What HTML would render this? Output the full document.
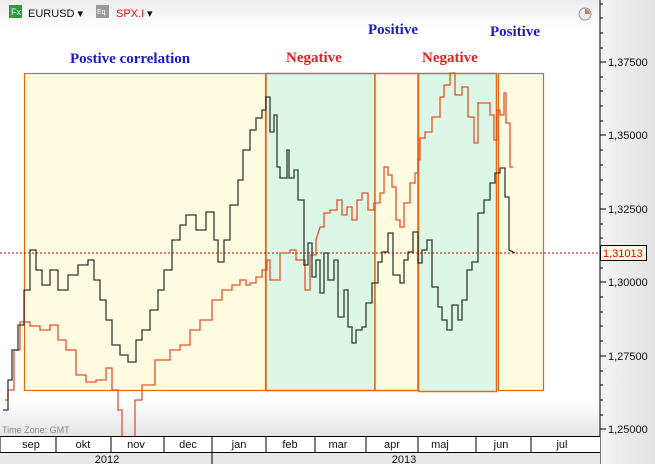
<!DOCTYPE html>
<html><head><meta charset="utf-8"><style>
body{margin:0;width:655px;height:464px;overflow:hidden;background:#fff;font-family:"Liberation Sans",sans-serif}
</style></head><body>
<svg width="655" height="464" xmlns="http://www.w3.org/2000/svg" style="position:absolute;left:0;top:0">
<defs>
<linearGradient id="tg" x1="0" y1="0" x2="0" y2="1"><stop offset="0" stop-color="#ececec"/><stop offset="1" stop-color="#fff"/></linearGradient>
<linearGradient id="rg" x1="0" y1="0" x2="1" y2="0"><stop offset="0" stop-color="#f4f4f4"/><stop offset="1" stop-color="#e2e2e2"/></linearGradient>
<linearGradient id="bg" x1="0" y1="0" x2="0" y2="1"><stop offset="0" stop-color="#fff"/><stop offset="1" stop-color="#e4e4e4"/></linearGradient>
</defs>
<rect x="0" y="0" width="600" height="28" fill="url(#tg)"/>
<rect x="0" y="400" width="600" height="36" fill="url(#bg)"/>
<rect x="600" y="0" width="55" height="464" fill="url(#rg)"/>
<rect x="24.5" y="73.5" width="241" height="317" fill="#fffbe0" stroke="#e8660e" stroke-width="1.2"/>
<rect x="266" y="73.5" width="109" height="317" fill="#dcf7e6" stroke="#e8660e" stroke-width="1.5"/>
<rect x="375" y="73.5" width="43" height="317" fill="#fffbe0" stroke="#e8660e" stroke-width="1.5"/>
<rect x="418.5" y="73.5" width="78" height="318" fill="#dcf7e6" stroke="#e8660e" stroke-width="1.5"/>
<rect x="498.5" y="73.5" width="45" height="317" fill="#fffbe0" stroke="#e8660e" stroke-width="1.2"/>
<g font-family="Liberation Serif,serif" font-weight="bold" font-size="15">
<text x="70" y="63" fill="#1a1ac8">Postive correlation</text>
<text x="286" y="62" fill="#e02020">Negative</text>
<text x="368" y="34" fill="#1a1ac8">Positive</text>
<text x="422" y="62" fill="#e02020">Negative</text>
<text x="490" y="36" fill="#1a1ac8">Positive</text>
</g>
<line x1="0" y1="253" x2="600" y2="253" stroke="#c00" stroke-dasharray="2,2" stroke-width="1"/>
<polyline fill="none" stroke="#e8502a" stroke-width="1.3" points="5,400 8,400 8,390 14,390 14,350 20,350 20,322 30,322 30,326 40,326 40,330 50,330 50,325 58,325 58,340 66,340 66,350 76,350 76,375 86,375 86,382 96,382 96,380 106,380 106,368 112,368 112,390 118,390 118,410 122,410 122,440 128,440 128,470 135,470 135,400 142,400 142,385 155,385 155,360 170,360 170,350 180,350 180,345 190,345 190,330 200,330 200,320 212,320 212,300 222,300 222,290 232,290 232,285 240,285 240,280 246,280 246,285 250,285 250,283 256,283 256,277 262,277 262,270 267,270 267,260 270,260 270,280 280,280 280,253 290,253 290,250 296,250 296,260 305,260 305,290 310,290 310,255 316,255 316,240 320,227 324,227 324,213 330,213 330,210 337,210 337,200 342,200 342,215 347,215 347,207 352,207 352,220 357,220 357,200 362,200 362,193 368,193 368,210 374,210 374,203 380,203 380,193 384,193 384,167 388,167 388,175 392,175 392,187 396,187 396,220 400,220 400,227 404,227 404,203 410,203 410,183 415,183 415,173 418,173 418,160 420,160 420,138 425,138 425,132 432,132 432,117 440,117 440,97 444,97 444,85 450,85 450,73 455,73 455,95 462,95 462,87 468,87 468,117 474,117 474,143 478,143 478,103 490,103 490,115 494,115 494,140 497,140 497,110 500,110 500,115 504,115 504,93 506,93 506,123 510,123 510,167 513,167"/>
<polyline fill="none" stroke="#2f3a30" stroke-width="1.3" points="3,410 8,410 8,380 12,380 12,350 18,350 18,325 24,325 24,290 30,290 30,250 36,250 36,270 42,270 42,285 50,285 50,270 58,270 58,290 68,290 68,275 78,275 78,265 88,265 88,260 94,260 94,280 100,280 100,300 106,300 106,320 112,320 112,345 120,345 120,355 128,355 128,362 136,362 136,340 142,340 142,330 150,330 150,310 158,310 158,290 164,290 164,270 172,270 172,240 180,240 180,225 186,225 186,215 196,215 196,230 206,230 206,212 214,212 214,240 218,240 218,262 224,262 224,240 230,240 230,205 238,205 238,180 243,180 243,150 250,150 250,130 256,130 256,118 262,118 262,110 266,110 266,97 270,97 270,132 274,132 274,115 277,115 277,167 280,167 280,178 287,178 287,150 289,150 289,178 294,178 294,170 298,170 298,200 304,200 304,265 308,265 308,243 312,243 312,277 316,277 316,260 320,260 320,293 324,293 324,253 328,253 328,280 334,280 334,260 338,260 338,317 344,317 344,290 348,290 348,327 352,327 352,343 356,343 356,330 362,330 362,327 366,327 366,303 372,303 372,283 378,283 378,262 382,262 382,252 388,252 388,233 393,233 393,275 400,275 400,283 404,283 404,260 408,260 408,252 413,252 413,232 418,232 418,263 422,263 422,250 427,250 427,240 432,240 432,287 438,287 438,307 442,307 442,320 447,320 447,330 452,330 452,305 458,305 458,320 462,320 462,300 467,300 467,270 472,270 472,262 478,262 478,213 484,213 484,200 490,200 490,183 495,183 495,173 500,173 500,168 505,168 505,197 509,197 509,250 515,253"/>
<line x1="600" y1="0" x2="600" y2="464" stroke="#000" stroke-width="1"/>
<g stroke="#000" stroke-width="1">
<line x1="600" y1="62" x2="606" y2="62"/><line x1="600" y1="135" x2="606" y2="135"/><line x1="600" y1="209" x2="606" y2="209"/><line x1="600" y1="282" x2="606" y2="282"/><line x1="600" y1="356" x2="606" y2="356"/><line x1="600" y1="429" x2="606" y2="429"/>
</g>
<g stroke="#000" stroke-width="1">
<line x1="600" y1="4" x2="603" y2="4"/><line x1="600" y1="18" x2="603" y2="18"/><line x1="600" y1="33" x2="603" y2="33"/><line x1="600" y1="48" x2="603" y2="48"/>
<line x1="600" y1="77" x2="603" y2="77"/><line x1="600" y1="91" x2="603" y2="91"/><line x1="600" y1="106" x2="603" y2="106"/><line x1="600" y1="121" x2="603" y2="121"/>
<line x1="600" y1="150" x2="603" y2="150"/><line x1="600" y1="165" x2="603" y2="165"/><line x1="600" y1="180" x2="603" y2="180"/><line x1="600" y1="194" x2="603" y2="194"/>
<line x1="600" y1="224" x2="603" y2="224"/><line x1="600" y1="238" x2="603" y2="238"/><line x1="600" y1="253" x2="603" y2="253"/><line x1="600" y1="268" x2="603" y2="268"/>
<line x1="600" y1="297" x2="603" y2="297"/><line x1="600" y1="312" x2="603" y2="312"/><line x1="600" y1="326" x2="603" y2="326"/><line x1="600" y1="341" x2="603" y2="341"/>
<line x1="600" y1="371" x2="603" y2="371"/><line x1="600" y1="385" x2="603" y2="385"/><line x1="600" y1="400" x2="603" y2="400"/><line x1="600" y1="415" x2="603" y2="415"/>
</g>
<g font-size="11" fill="#111">
<text x="608" y="66">1,37500</text><text x="608" y="139">1,35000</text><text x="608" y="213">1,32500</text><text x="608" y="286">1,30000</text><text x="608" y="360">1,27500</text><text x="608" y="433">1,25000</text>
</g>
<rect x="600.5" y="245.5" width="46" height="15" fill="#fffbe0" stroke="#000"/>
<text x="603" y="257" font-size="11" fill="#e00">1,31013</text>
<rect x="0" y="436" width="600" height="28" fill="#fff"/>
<rect x="0" y="452" width="600" height="12" fill="#e8e8e8"/>
<line x1="0" y1="436.5" x2="600" y2="436.5" stroke="#000"/>
<line x1="0" y1="452.5" x2="600" y2="452.5" stroke="#000"/>
<g stroke="#000"><line x1="0" y1="436" x2="0" y2="452"/><line x1="56" y1="436" x2="56" y2="452"/><line x1="111" y1="436" x2="111" y2="452"/><line x1="164" y1="436" x2="164" y2="452"/><line x1="212" y1="436" x2="212" y2="464"/><line x1="266" y1="436" x2="266" y2="452"/><line x1="315" y1="436" x2="315" y2="452"/><line x1="366" y1="436" x2="366" y2="452"/><line x1="418" y1="436" x2="418" y2="452"/><line x1="476" y1="436" x2="476" y2="452"/><line x1="531" y1="436" x2="531" y2="452"/></g>
<g font-size="11" fill="#111" text-anchor="middle">
<text x="31" y="448">sep</text><text x="83" y="448">okt</text><text x="136" y="448">nov</text><text x="188" y="448">dec</text><text x="239" y="448">jan</text><text x="290" y="448">feb</text><text x="338" y="448">mar</text><text x="392" y="448">apr</text><text x="440" y="448">maj</text><text x="501" y="448">jun</text><text x="562" y="448">jul</text>
<text x="107" y="463">2012</text><text x="404" y="463">2013</text>
</g>
<text x="2" y="433" font-size="9" fill="#888">Time Zone: GMT</text>
<rect x="9" y="5" width="13" height="13" fill="#2e9a3e"/><text x="11" y="15" font-size="9" fill="#fff">Fx</text>
<text x="28" y="17" font-size="11" fill="#111">EURUSD ▾</text>
<rect x="96" y="5" width="13" height="13" fill="#999"/><text x="97" y="14" font-size="7" fill="#fff">Eq</text>
<text x="116" y="17" font-size="11" fill="#e01010">SPX.I</text><text x="147" y="17" font-size="11" fill="#111">▾</text>
<circle cx="585" cy="14" r="6" fill="#e8eef6" stroke="#8899aa"/><path d="M585 14 L585 9 A5 5 0 0 1 590 14 Z" fill="#e87050"/>
</svg>
</body></html>
